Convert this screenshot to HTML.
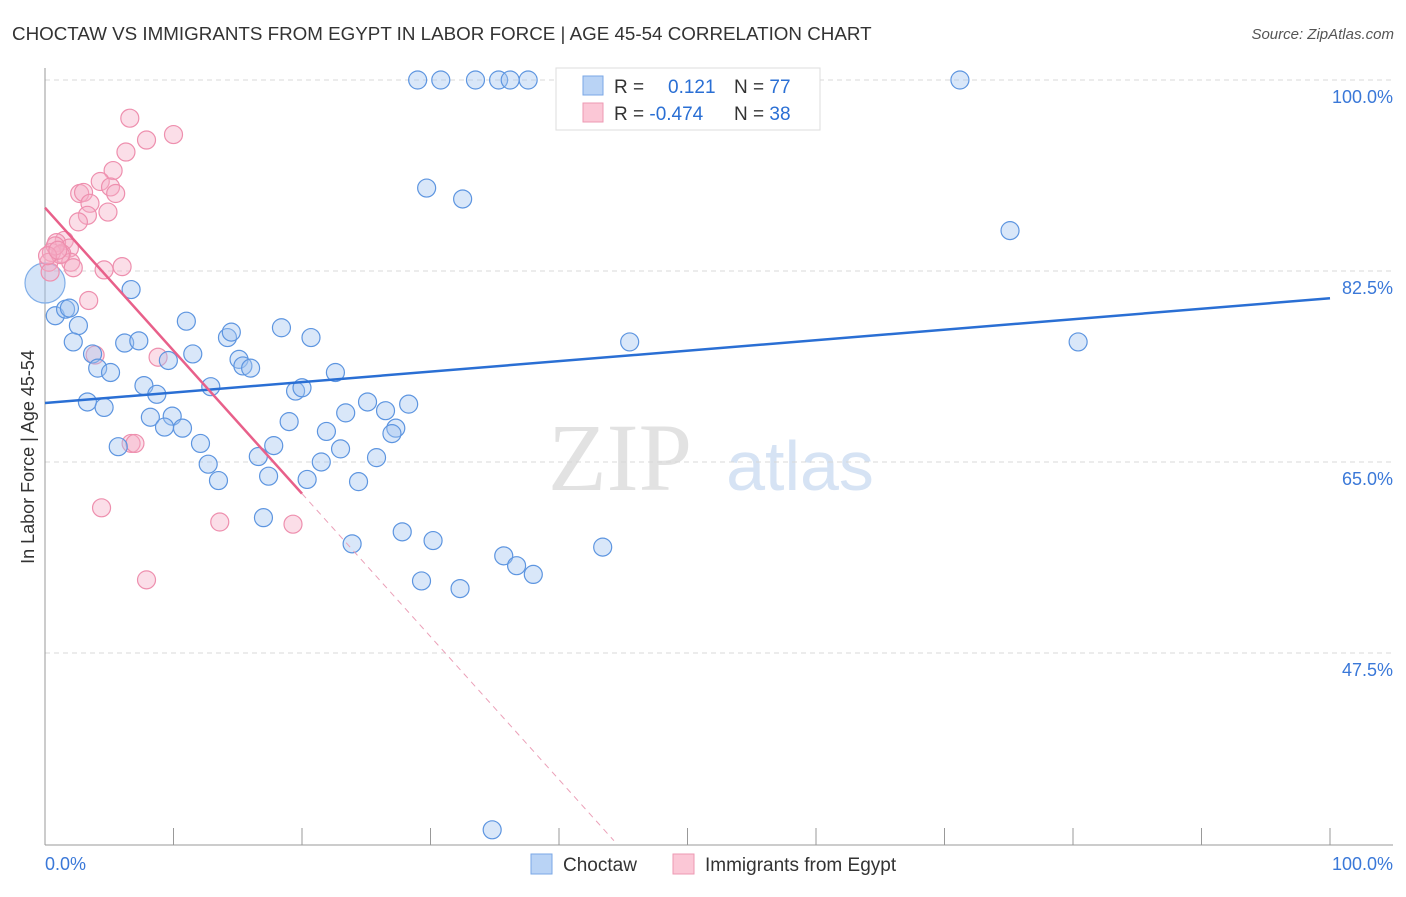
<!DOCTYPE html>
<html><head><meta charset="utf-8"><style>
body{margin:0;background:#fff;font-family:"Liberation Sans",sans-serif}
</style></head><body>
<svg id="c" width="1406" height="892" xmlns="http://www.w3.org/2000/svg" style="font-family:'Liberation Sans',sans-serif">
<text x="12" y="40" font-size="18.8" fill="#333">CHOCTAW VS IMMIGRANTS FROM EGYPT IN LABOR FORCE | AGE 45-54 CORRELATION CHART</text>
<text x="1394" y="39" font-size="15" fill="#555" text-anchor="end" font-style="italic">Source: ZipAtlas.com</text>
<text x="620" y="490" font-size="96" fill="#e2e2e2" font-family="Liberation Serif" text-anchor="middle">ZIP</text>
<text x="800" y="490" font-size="70" fill="#d6e3f4" text-anchor="middle">atlas</text>
<g id="grid"></g><g id="marks"></g>
<text transform="translate(34,457) rotate(-90)" font-size="18" fill="#333" text-anchor="middle">In Labor Force | Age 45-54</text>
<g>
<rect x="556" y="68" width="264" height="62" fill="#fff" stroke="#ddd"/>
<rect x="583" y="76" width="20" height="19" fill="#b9d3f5" stroke="#7aa7e6"/>
<rect x="583" y="103" width="20" height="19" fill="#fbc7d6" stroke="#ee99b3"/>
<text x="614" y="93" font-size="19" fill="#333">R = <tspan fill="#2a6fd4" x="668">0.121</tspan><tspan fill="#333" x="734">N = </tspan><tspan fill="#2a6fd4">77</tspan></text>
<text x="614" y="120" font-size="19" fill="#333">R = <tspan fill="#2a6fd4">-0.474</tspan><tspan fill="#333" x="734">N = </tspan><tspan fill="#2a6fd4">38</tspan></text>
</g>
<g>
<rect x="531" y="854" width="21" height="20" fill="#b9d3f5" stroke="#7aa7e6"/>
<text x="563" y="871" font-size="19" fill="#333">Choctaw</text>
<rect x="673" y="854" width="21" height="20" fill="#fbc7d6" stroke="#ee99b3"/>
<text x="705" y="871" font-size="19" fill="#333">Immigrants from Egypt</text>
</g>
</svg>
<script>
const yTicks=[100,82.5,65,47.5];
const yTickLabels=["100.0%","82.5%","65.0%","47.5%"];
const xTicks=[0,10,20,30,40,50,60,70,80,90,100];
const xEndLabels=["0.0%","100.0%"];
const blueX=[29.0,30.8,33.5,35.3,36.2,37.6,71.2,29.7,32.5,75.1,6.7,0.8,1.6,1.9,2.6,2.2,6.2,7.3,11.0,14.2,14.5,18.4,20.7,45.5,80.4,3.7,4.1,5.1,11.5,9.6,15.1,15.4,16.0,22.6,7.7,8.7,12.9,19.5,20.0,3.3,4.6,8.2,9.9,9.3,10.7,19.0,23.4,25.1,26.5,28.3,27.3,27.0,21.9,5.7,12.1,16.6,17.8,23.0,25.8,12.7,21.5,13.5,17.4,20.4,24.4,17.0,27.8,30.2,23.9,43.4,35.7,36.7,38.0,29.3,32.3,34.8];
const blueY=[100,100,100,100,100,100,100,90.1,89.1,86.2,80.8,78.4,79.0,79.1,77.5,76.0,75.9,76.1,77.9,76.4,76.9,77.3,76.4,76.0,76.0,74.9,73.6,73.2,74.9,74.3,74.4,73.8,73.6,73.2,72.0,71.2,71.9,71.5,71.8,70.5,70.0,69.1,69.2,68.2,68.1,68.7,69.5,70.5,69.7,70.3,68.1,67.6,67.8,66.4,66.7,65.5,66.5,66.2,65.4,64.8,65.0,63.3,63.7,63.4,63.2,59.9,58.6,57.8,57.5,57.2,56.4,55.5,54.7,54.1,53.4,31.3];
const pinkX=[6.6,7.9,10.0,6.3,5.3,4.3,2.7,3.0,5.1,5.5,3.5,4.9,3.3,2.6,1.5,0.9,1.9,1.3,0.5,0.3,2.0,2.2,4.6,6.0,3.4,3.9,8.8,6.7,7.0,4.4,13.6,19.3,7.9,0.4,1.2,0.8,0.2,1.0];
const pinkY=[96.5,94.5,95.0,93.4,91.7,90.7,89.6,89.7,90.2,89.6,88.7,87.9,87.6,87.0,85.3,85.1,84.6,84.1,84.2,83.3,83.3,82.8,82.6,82.9,79.8,74.8,74.6,66.7,66.7,60.8,59.5,59.3,54.2,82.4,84.0,84.8,83.9,84.4];
const bigX=[0], bigY=[81.4];
const blueTrend=[70.4,80.0];
const pinkTrend=[88.3,-1.31];
const X=v=>45+v*12.85, Y=v=>80+(100-v)*10.914;
const NS="http://www.w3.org/2000/svg";
const grid=document.getElementById('grid'), marks=document.getElementById('marks');
function mk(tag,attrs,parent){const e=document.createElementNS(NS,tag);for(const k in attrs)e.setAttribute(k,attrs[k]);parent.appendChild(e);return e;}
yTicks.forEach((t,i)=>{
 const l=mk('line',{x1:45,x2:1393,y1:Y(t),y2:Y(t),stroke:'#d8d8d8','stroke-dasharray':'5,4'},grid);
 
 
 const tx=mk('text',{x:1393,y:Y(t)+23,'font-size':18,fill:'#3a78d8','text-anchor':'end'},grid);
 tx.textContent=yTickLabels[i];
 
 
});
const ax=mk('line',{x1:45,x2:1393,y1:845,y2:845,stroke:'#999'},grid);


const ay=mk('line',{x1:45,x2:45,y1:68,y2:845,stroke:'#999'},grid);


xTicks.forEach(t=>{
 const l=mk('line',{x1:X(t),x2:X(t),y1:828,y2:845,stroke:'#999'},grid);
 
 
});
[[0,'start',45],[100,'end',1393]].forEach((d,i)=>{
 const tx=mk('text',{x:d[2],y:870,'font-size':18,fill:'#3a78d8','text-anchor':d[1]},grid);
 tx.textContent=xEndLabels[i];
 
 
});
function dots(xs,ys,r,fill,stroke,name){xs.forEach((x,i)=>{
 const c=mk('circle',{cx:X(x),cy:Y(ys[i]),r:r,fill:fill,stroke:stroke,'stroke-width':1.2},marks);
 
 
});}
dots(bigX,bigY,20,'rgba(160,196,240,0.45)','#80aee8','choctaw-point');
dots(pinkX,pinkY,9,'rgba(246,172,198,0.4)','#ee8fae','egypt-point');
dots(blueX,blueY,9,'rgba(160,196,240,0.4)','#5d95e0','choctaw-point');
const bl=mk('line',{x1:X(0),y1:Y(blueTrend[0]),x2:X(100),y2:Y(blueTrend[1]),stroke:'#2a6fd4','stroke-width':2.5},marks);


const pf=v=>pinkTrend[0]+pinkTrend[1]*v;
const pl=mk('line',{x1:X(0),y1:Y(pf(0)),x2:X(20),y2:Y(pf(20)),stroke:'#e8608a','stroke-width':2.5},marks);


const xe=(30.3-pinkTrend[0])/pinkTrend[1];
const pd=mk('line',{x1:X(20),y1:Y(pf(20)),x2:X(xe),y2:Y(pf(xe)),stroke:'#eba0b8','stroke-width':1,'stroke-dasharray':'6,5'},marks);


</script>
</body></html>
